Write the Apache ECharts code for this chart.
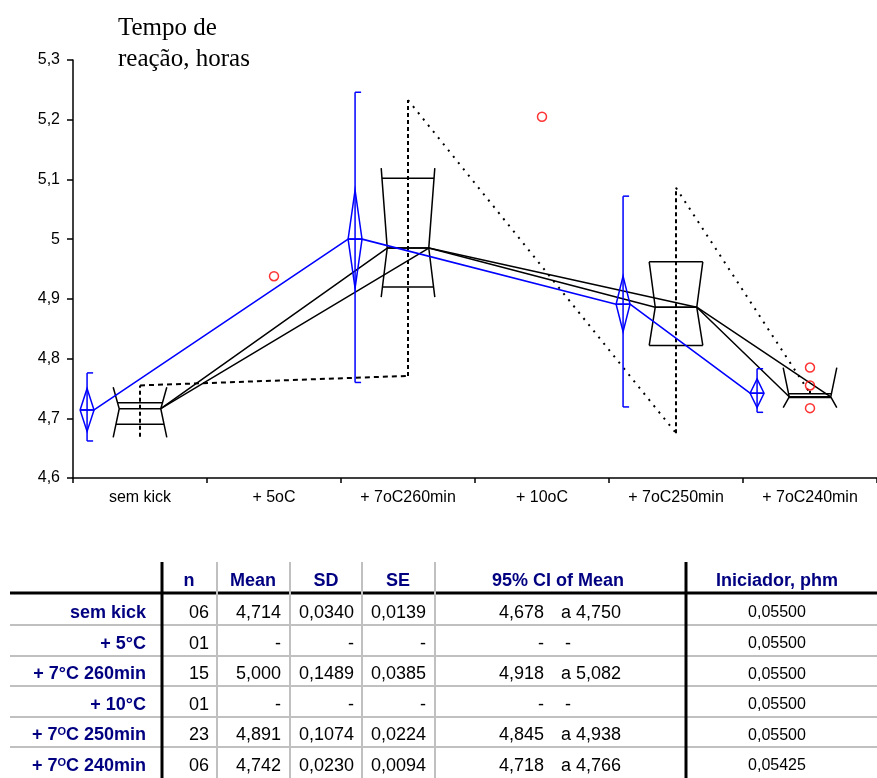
<!DOCTYPE html>
<html><head><meta charset="utf-8">
<script src="https://cdn.jsdelivr.net/npm/echarts@6/dist/echarts.min.js"></script>
<style>html,body{margin:0;padding:0;background:#fff}#c{width:877px;height:778px}</style>
</head><body><div id="c"></div>
<script>
// ---------- chart data ----------
const categories = ['sem kick', '+ 5oC', '+ 7oC260min', '+ 10oC', '+ 7oC250min', '+ 7oC240min'];

// notched box plots (category index of each box)
const boxCat       = [0, 2, 4, 5];
const boxNotchLow  = [4.668, 4.903, 4.822, 4.718];
const boxQ1        = [4.690, 4.920, 4.822, 4.735];
const boxMedian    = [4.716, 4.985, 4.886, 4.736];
const boxQ3        = [4.726, 5.102, 4.962, 4.741];
const boxNotchHigh = [4.752, 5.119, 4.962, 4.785];
const rangeLow     = [4.669, 4.771, 4.675, 4.742];
const rangeHigh    = [4.755, 5.233, 5.086, 4.746];

// means with 95% CI diamonds and spread brackets
const meanCat    = [0, 2, 4, 5];
const meanValues = [4.714, 5.000, 4.891, 4.742];
const ciLow      = [4.678, 4.918, 4.845, 4.718];
const ciHigh     = [4.750, 5.082, 4.938, 4.766];
const spreadLow  = [4.662, 4.760, 4.719, 4.710];
const spreadHigh = [4.776, 5.246, 5.072, 4.783];

// single points / outliers
const pointCat    = [1, 3, 5, 5, 5];
const pointValues = [4.938, 5.205, 4.785, 4.755, 4.717];

// ---------- table data ----------
const tableHeaders = ['n', 'Mean', 'SD', 'SE', '95% CI of Mean', 'Iniciador, phm'];
const rowLabels = ['sem kick', '+ 5°C', '+ 7°C 260min', '+ 10°C', '+ 7ºC 250min', '+ 7ºC 240min'];
const colN    = ['06', '01', '15', '01', '23', '06'];
const colMean = ['4,714', '-', '5,000', '-', '4,891', '4,742'];
const colSD   = ['0,0340', '-', '0,1489', '-', '0,1074', '0,0230'];
const colSE   = ['0,0139', '-', '0,0385', '-', '0,0224', '0,0094'];
const colCILow  = ['4,678', '-', '4,918', '-', '4,845', '4,718'];
const colCIHigh = ['a 4,750', '-', 'a 5,082', '-', 'a 4,938', 'a 4,766'];
const colIniciador = ['0,05500', '0,05500', '0,05500', '0,05500', '0,05500', '0,05425'];

// ---------- styling constants ----------
const BLUE = '#0000ff';
const MEAN_OFFSET = -0.395, BOX_OUT = 0.2, BOX_IN = 0.155, DIAMOND_HALF = 0.052, CAP = 0.045;
const NAVY = '#000080';
const SANS = 'Liberation Sans, Arial, sans-serif';

const chart = echarts.init(document.getElementById('c'));

function renderBox(params, api) {
  const xc = api.value(0);
  const nl = api.value(1), q1 = api.value(2), md = api.value(3), q3 = api.value(4), nh = api.value(5);
  const st = {stroke: '#000', lineWidth: 1.5, fill: 'none'};
  const children = [];
  [-1, 1].forEach(sg => {
    const top = api.coord([xc + sg * BOX_OUT, nh]);
    const mid = api.coord([xc + sg * BOX_IN, md]);
    const bot = api.coord([xc + sg * BOX_OUT, nl]);
    children.push({type: 'polyline', shape: {points: [top, mid, bot]}, style: st});
  });
  const sideAt = (v, sg) => {
    const mid = api.coord([xc + sg * BOX_IN, md]);
    const end = api.coord([xc + sg * BOX_OUT, v >= md ? nh : nl]);
    const y = api.coord([xc, v])[1];
    let t = end[1] === mid[1] ? 1 : (y - mid[1]) / (end[1] - mid[1]);
    t = Math.max(0, Math.min(1, t));
    return [mid[0] + (end[0] - mid[0]) * t, y];
  };
  [q1, q3].forEach(v => {
    const a = sideAt(v, -1), b = sideAt(v, 1);
    children.push({type: 'line', shape: {x1: a[0], y1: a[1], x2: b[0], y2: b[1]}, style: st});
  });
  const ml = api.coord([xc - BOX_IN, md]), mr = api.coord([xc + BOX_IN, md]);
  children.push({type: 'line', shape: {x1: ml[0], y1: ml[1], x2: mr[0], y2: mr[1]}, style: st});
  return {type: 'group', children};
}

function renderMean(params, api) {
  const xm = api.value(0), m = api.value(1), lo = api.value(2), hi = api.value(3), sl = api.value(4), sh = api.value(5);
  const st = {stroke: BLUE, lineWidth: 1.5, fill: 'none'};
  const top = api.coord([xm, hi]), bot = api.coord([xm, lo]);
  const l = api.coord([xm - DIAMOND_HALF, m]), r = api.coord([xm + DIAMOND_HALF, m]);
  const s1 = api.coord([xm, sl]), s2 = api.coord([xm, sh]);
  const cx = api.coord([xm + CAP, m])[0];
  return {type: 'group', children: [
    {type: 'polygon', shape: {points: [top, r, bot, l]}, style: st},
    {type: 'line', shape: {x1: l[0], y1: l[1], x2: r[0], y2: r[1]}, style: st},
    {type: 'line', shape: {x1: s1[0], y1: s1[1], x2: s2[0], y2: s2[1]}, style: st},
    {type: 'line', shape: {x1: s2[0], y1: s2[1], x2: cx, y2: s2[1]}, style: st},
    {type: 'line', shape: {x1: s1[0], y1: s1[1], x2: cx, y2: s1[1]}, style: st}
  ]};
}

const series = [];

// range lines (dashed verticals, connectors)
boxCat.forEach((c, k) => {
  const xc = c + 0.5;
  series.push({type: 'line', xAxisIndex: 1, symbol: 'none', silent: true, z: 1,
    data: [[xc, rangeLow[k]], [xc, rangeHigh[k]]],
    lineStyle: {color: '#000', width: 2, type: [4, 3]}});
  if (k < boxCat.length - 1) {
    const xn = boxCat[k + 1] + 0.5;
    series.push({type: 'line', xAxisIndex: 1, symbol: 'none', silent: true, z: 1,
      data: [[xc, rangeHigh[k]], [xn, rangeLow[k + 1]]],
      lineStyle: {color: '#000', width: 2, type: k === 0 ? [5, 4] : [2, 6]}});
  }
});

// black median connection lines
const medLine1 = [], medLine2 = [];
boxCat.forEach((c, k) => {
  const xc = c + 0.5;
  const L = [xc - BOX_IN, boxMedian[k]], R = [xc + BOX_IN, boxMedian[k]];
  if (k > 0) medLine1.push(L);
  if (k < boxCat.length - 1) medLine1.push(R);
  medLine2.push(R);
});
series.push({type: 'line', xAxisIndex: 1, symbol: 'none', silent: true, z: 2, data: medLine1,
  lineStyle: {color: '#000', width: 1.5}});
series.push({type: 'line', xAxisIndex: 1, symbol: 'none', silent: true, z: 2, data: medLine2,
  lineStyle: {color: '#000', width: 1.5}});

// boxes
series.push({type: 'custom', xAxisIndex: 1, silent: true, z: 3, renderItem: renderBox,
  encode: {x: 0, y: [1, 2, 3, 4, 5]},
  data: boxCat.map((c, k) => [c + 0.5, boxNotchLow[k], boxQ1[k], boxMedian[k], boxQ3[k], boxNotchHigh[k]])});

// blue mean line
const meanLine = [];
meanCat.forEach((c, k) => {
  const xm = c + 0.5 + MEAN_OFFSET;
  meanLine.push([xm - DIAMOND_HALF, meanValues[k]], [xm + DIAMOND_HALF, meanValues[k]]);
});
series.push({type: 'line', xAxisIndex: 1, symbol: 'none', silent: true, z: 4, data: meanLine,
  lineStyle: {color: BLUE, width: 1.6}});

// diamonds + brackets
series.push({type: 'custom', xAxisIndex: 1, silent: true, z: 5, renderItem: renderMean,
  encode: {x: 0, y: [1, 2, 3, 4, 5]},
  data: meanCat.map((c, k) => [c + 0.5 + MEAN_OFFSET, meanValues[k], ciLow[k], ciHigh[k], spreadLow[k], spreadHigh[k]])});

// points
series.push({type: 'scatter', xAxisIndex: 1, silent: true, z: 6, symbol: 'circle', symbolSize: 9,
  data: pointCat.map((c, k) => [c + 0.5, pointValues[k]]),
  itemStyle: {color: 'rgba(0,0,0,0)', borderColor: '#ff0000', borderWidth: 1.5}});

// ---------- table graphics ----------
const g = [];
const hLine = (y, x1, x2, w, c) => g.push({type: 'line', silent: true, z: 10,
  shape: {x1, y1: y, x2, y2: y}, style: {stroke: c, lineWidth: w}});
const vLine = (x, y1, y2, w, c) => g.push({type: 'line', silent: true, z: 11,
  shape: {x1: x, y1, x2: x, y2}, style: {stroke: c, lineWidth: w}});
const txt = (s, x, y, align, opts) => g.push({type: 'text', silent: true, z: 12, x, y,
  style: Object.assign({text: s, align, verticalAlign: 'middle', fontFamily: SANS, fontSize: 18, fill: '#000'}, opts || {})});

const GRAY = '#c0c0c0';
[625, 656, 686, 717, 747].forEach(y => hLine(y, 10, 877, 2, GRAY));
[217, 290, 362, 435].forEach(x => vLine(x, 562, 778, 2, GRAY));
hLine(593, 10, 877, 3, '#000');
[162, 686].forEach(x => vLine(x, 562, 778, 3, '#000'));

const headerX = [189, 253, 326, 398, 558, 777];
tableHeaders.forEach((h, i) => txt(h, headerX[i], 581, 'center', {fontWeight: 'bold', fill: NAVY}));

const rowY = k => 613 + 30.6 * k;
rowLabels.forEach((lab, k) => {
  const rich = lab.replace('º', '{s|O}');
  txt(rich, 146, rowY(k), 'right', {fontWeight: 'bold', fill: NAVY,
    rich: {s: {fontSize: 11, fontWeight: 'bold', fill: NAVY, fontFamily: SANS, verticalAlign: 'top'}}});
  txt(colN[k], 209, rowY(k), 'right');
  txt(colMean[k], 281, rowY(k), 'right');
  txt(colSD[k], 354, rowY(k), 'right');
  txt(colSE[k], 426, rowY(k), 'right');
  txt(colCILow[k], 544, rowY(k), 'right');
  txt(colCIHigh[k], colCIHigh[k] === '-' ? 565 : 561, rowY(k), 'left');
  txt(colIniciador[k], 777, rowY(k), 'center', {fontSize: 16});
});

chart.setOption({
  animation: false,
  backgroundColor: '#fff',
  title: {text: 'Tempo de\nreação, horas', left: 113, top: 8,
    textStyle: {fontFamily: 'Liberation Serif, Times New Roman, serif', fontSize: 25, fontWeight: 'normal', color: '#000', lineHeight: 31}},
  grid: {left: 73, right: 0, top: 60, bottom: 300, containLabel: false},
  xAxis: [
    {type: 'category', data: categories, boundaryGap: true,
      axisLine: {lineStyle: {color: '#000', width: 1.5}},
      axisTick: {show: true, length: 5, lineStyle: {color: '#000', width: 1.5}},
      axisLabel: {color: '#000', fontFamily: SANS, fontSize: 16, margin: 12, interval: 0},
      splitLine: {show: false}},
    {type: 'value', min: 0, max: 6, show: false}
  ],
  yAxis: {type: 'value', min: 4.6, max: 5.3, interval: 0.1,
    axisLine: {show: true, lineStyle: {color: '#000', width: 1.5}},
    axisTick: {show: true, length: 6, lineStyle: {color: '#000', width: 1.5}},
    axisLabel: {color: '#000', fontFamily: SANS, fontSize: 16, margin: 13,
      formatter: v => String(Math.round(v * 10) / 10).replace('.', ',')},
    splitLine: {show: false}},
  series,
  graphic: g
});
</script></body></html>
